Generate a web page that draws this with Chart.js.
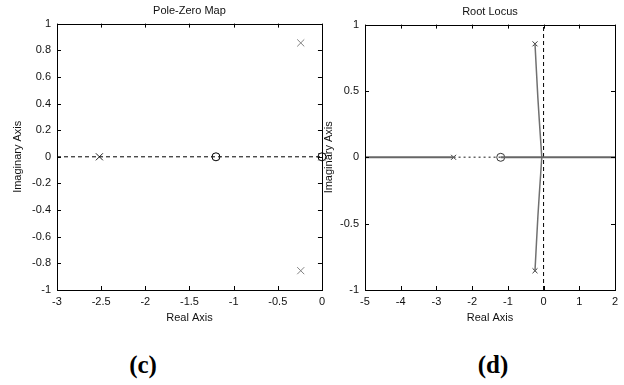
<!DOCTYPE html>
<html>
<head>
<meta charset="utf-8">
<script src="https://cdn.jsdelivr.net/npm/chart.js@4/dist/chart.umd.min.js"></script>
<style>
  html, body { margin: 0; padding: 0; background: #fff; }
  #wrap { position: relative; width: 624px; height: 385px; overflow: hidden; }
  canvas { position: absolute; top: 0; }
  #c1 { left: 0; }
  #c2 { left: 312px; }
  .cap { position: absolute; transform: translate(-50%, -50%); font: bold 25px "Liberation Serif", "Times New Roman", serif; line-height: 1; color: #000; }
</style>
</head>
<body>
<div id="wrap">
  <canvas id="c1" width="330" height="330"></canvas>
  <canvas id="c2" width="312" height="330"></canvas>
  <div class="cap" style="left:143px; top:364px;">(c)</div>
  <div class="cap" style="left:493px; top:364px;">(d)</div>
</div>
<script>
// --- (c) Pole-Zero Map ---
const pzXTicks = [-3, -2.5, -2, -1.5, -1, -0.5, 0];
const pzYTicks = [-1, -0.8, -0.6, -0.4, -0.2, 0, 0.2, 0.4, 0.6, 0.8, 1];
const pzRealPoleX = [-2.52, 0];
const pzCplxPoleX = [-0.24, -0.24];
const pzCplxPoleY = [0.855, -0.855];
const pzZeroX = [-1.2, 0];
const pzAxisLineX = [-3, 0];

// --- (d) Root Locus ---
const rlXTicks = [-5, -4, -3, -2, -1, 0, 1, 2];
const rlYTicks = [-1, -0.5, 0, 0.5, 1];
const rlPoleX = [-2.52, -0.24, -0.24];
const rlPoleY = [0, 0.855, -0.855];
const rlZeroX = [-1.2];
const rlBranchX = [-0.24, -0.2, -0.16, -0.12, -0.08, -0.05];
const rlBranchY = [0.855, 0.65, 0.45, 0.28, 0.12, 0];
const rlLeftSegX = [-5, -2.52];
const rlMidSegX = [-2.52, -1.2];
const rlRightSegX = [-1.2, 2];
const rlImagLineY = [-1, 1];

const FONT = "'Liberation Sans', Arial, sans-serif";

// box with inward ticks on all four sides, like matlab axes
const framePlugin = {
  id: 'frame',
  afterDatasetsDraw(chart) {
    const {ctx, chartArea: a, scales: {x, y}} = chart;
    const L = 4;
    ctx.save();
    ctx.strokeStyle = '#000';
    ctx.lineWidth = 1;
    ctx.beginPath();
    x.ticks.forEach(t => {
      const px = Math.round(x.getPixelForValue(t.value)) + 0.5;
      ctx.moveTo(px, a.bottom); ctx.lineTo(px, a.bottom - L);
      ctx.moveTo(px, a.top); ctx.lineTo(px, a.top + L);
    });
    y.ticks.forEach(t => {
      const py = Math.round(y.getPixelForValue(t.value)) + 0.5;
      ctx.moveTo(a.left, py); ctx.lineTo(a.left + L, py);
      ctx.moveTo(a.right, py); ctx.lineTo(a.right - L, py);
    });
    ctx.stroke();
    ctx.strokeRect(Math.round(a.left) + 0.5, Math.round(a.top) + 0.5,
                   Math.round(a.right - a.left), Math.round(a.bottom - a.top));
    ctx.restore();
  }
};

function pts(xs, ys) {
  return xs.map((v, i) => ({x: v, y: ys ? ys[i] : 0}));
}
function mirror(xs, ys) {
  return xs.map((v, i) => ({x: v, y: -ys[i]}));
}

function axes(xTicks, yTicks, yWidth, yTitlePad) {
  const tickFont = {family: FONT, size: 11};
  return {
    x: {
      type: 'linear', min: xTicks[0], max: xTicks[xTicks.length - 1],
      afterBuildTicks: s => { s.ticks = xTicks.map(v => ({value: v})); },
      afterFit: s => { s.height = 40; },
      grid: {display: false, drawTicks: false},
      border: {display: false},
      ticks: {color: '#111', font: tickFont, padding: 5, autoSkip: false, maxRotation: 0, callback: v => String(v)},
      title: {display: true, text: 'Real Axis', color: '#111', font: tickFont, padding: {top: 0, bottom: 5.4}}
    },
    y: {
      type: 'linear', min: yTicks[0], max: yTicks[yTicks.length - 1],
      afterBuildTicks: s => { s.ticks = yTicks.map(v => ({value: v})); },
      afterFit: s => { s.width = yWidth; },
      grid: {display: false, drawTicks: false},
      border: {display: false},
      ticks: {color: '#111', font: tickFont, padding: 6, autoSkip: false, callback: v => String(v)},
      title: {display: true, text: 'Imaginary Axis', color: '#111', font: tickFont, padding: {top: yTitlePad, bottom: 0}}
    }
  };
}

function baseOptions(title, titlePadTop, titlePadBottom, rightPad, scales) {
  return {
    responsive: false,
    animation: false,
    events: [],
    layout: {padding: {top: 0, right: rightPad, left: 0, bottom: 0}},
    plugins: {
      legend: {display: false},
      tooltip: {enabled: false},
      title: {display: true, text: title, fullSize: false, color: '#111',
              font: {family: FONT, size: 11, weight: 'normal'},
              padding: {top: titlePadTop, bottom: titlePadBottom}}
    },
    scales: scales
  };
}

const lineDs = (data, color, width, dash) => ({
  data, showLine: true, borderColor: color, borderWidth: width, borderDash: dash || [],
  pointRadius: 0, clip: 8
});
const markDs = (data, style, r, color, fill) => ({
  data, showLine: false, pointStyle: style, pointRadius: r, pointBorderColor: color,
  pointBackgroundColor: fill || 'rgba(0,0,0,0)', pointBorderWidth: 1, clip: 8
});

// (c)
new Chart(document.getElementById('c1'), {
  type: 'scatter',
  data: {
    datasets: [
      lineDs(pts(pzAxisLineX), '#000', 1, [4, 3]),
      markDs(pts(pzZeroX), 'circle', 4, '#000', '#fff'),
      markDs(pts(pzRealPoleX), 'crossRot', 5, '#222'),
      markDs(pts(pzCplxPoleX, pzCplxPoleY), 'crossRot', 5, '#808080')
    ]
  },
  options: baseOptions('Pole-Zero Map', 4, 6.4, 8, axes(pzXTicks, pzYTicks, 57, 11.4)),
  plugins: [framePlugin]
});

// (d)
new Chart(document.getElementById('c2'), {
  type: 'scatter',
  data: {
    datasets: [
      lineDs(pts(rlLeftSegX), '#666', 2),
      lineDs(pts(rlRightSegX), '#666', 2),
      lineDs(pts(rlMidSegX), '#666', 1.5, [2, 3]),
      lineDs([{x: 0, y: rlImagLineY[0]}, {x: 0, y: rlImagLineY[1]}], '#000', 1, [4, 3]),
      lineDs(pts(rlBranchX, rlBranchY), '#707070', 1.5),
      lineDs(mirror(rlBranchX, rlBranchY), '#707070', 1.5),
      markDs(pts(rlPoleX, rlPoleY), 'crossRot', 3.5, '#333'),
      markDs(pts(rlZeroX), 'circle', 4, '#333', '#fff')
    ]
  },
  options: baseOptions('Root Locus', 5, 6.4, 9, axes(rlXTicks, rlYTicks, 53, 10.4)),
  plugins: [framePlugin]
});
</script>
</body>
</html>
